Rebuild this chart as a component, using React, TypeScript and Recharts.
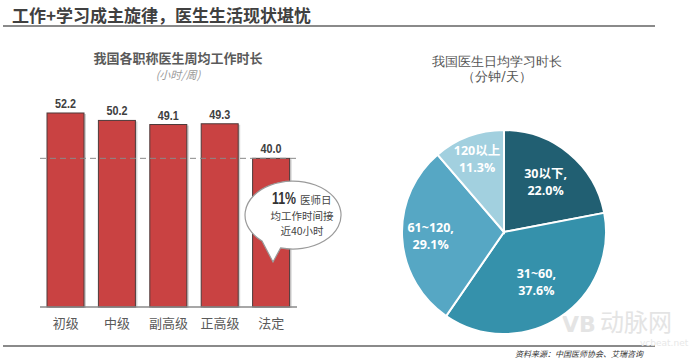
import React from "react";
import {
  BarChart,
  Bar,
  XAxis,
  YAxis,
  ReferenceLine,
  LabelList,
  PieChart,
  Pie,
  Cell,
} from "recharts";

// weekly working hours by title
const titles = ["初级", "中级", "副高级", "正高级", "法定"];
const weeklyHours = [52.2, 50.2, 49.1, 49.3, 40.0];

// daily study time (minutes/day)
const studyBuckets = ["30以下", "31~60", "61~120", "120以上"];
const studyShare = [22.0, 37.6, 29.1, 11.3];

const PIE_COLORS = ["#215f72", "#3591ab", "#56a7c4", "#a2d0df"];
const LABEL_R = [0.64, 0.58, 0.72, 0.76];

const CJK = '"Noto Sans CJK SC", "Noto Sans", sans-serif';

const barData = titles.map((t, i) => ({ name: t, value: weeklyHours[i] }));
const pieData = studyBuckets.map((b, i) => ({ name: b, value: studyShare[i] }));

const BarShape = (props: any) => {
  const { x, y, width, height } = props;
  if (height <= 0) return null;
  return (
    <g>
      <rect x={x + 2} y={y + 1} width={width} height={height} fill="#9a9a9a" opacity={0.45} />
      <rect x={x} y={y} width={width} height={height} fill="#c94242" stroke="#4e3a3a" strokeWidth={1} />
    </g>
  );
};

// narrow bold value label above each bar
const ValueLabel = (props: any) => {
  const { x, y, width, value } = props;
  return (
    <text
      x={x + width / 2}
      y={y - 5}
      textAnchor="middle"
      fill="#404040"
      fontSize={13}
      fontWeight={700}
      fontFamily='"Liberation Sans", sans-serif'
      textLength={21}
      lengthAdjust="spacingAndGlyphs"
    >
      {Number(value).toFixed(1)}
    </text>
  );
};

const RAD = Math.PI / 180;
const PieLabel = (props: any) => {
  const { cx, cy, midAngle, outerRadius, index, name, value } = props;
  const r = outerRadius * LABEL_R[index];
  const x = cx + r * Math.cos(-midAngle * RAD);
  const y = cy + r * Math.sin(-midAngle * RAD);
  const first = index < 3 ? `${name},` : name;
  const font = '"Open Sans", "Noto Sans CJK SC", sans-serif';
  return (
    <g>
      <text x={x} y={y - 4} fill="#ffffff" textAnchor="middle" fontFamily={font} fontSize={12.5} fontWeight={700}>
        {first}
      </text>
      <text x={x} y={y + 13} fill="#ffffff" textAnchor="middle" fontFamily={font} fontSize={12.5} fontWeight={700}>
        {`${value.toFixed(1)}%`}
      </text>
    </g>
  );
};

export default function App() {
  return (
    <div
      style={{
        position: "absolute",
        left: 0,
        top: 0,
        width: 700,
        height: 363,
        background: "#ffffff",
        overflow: "hidden",
        fontFamily: CJK,
      }}
    >
      {/* header */}
      <div
        style={{
          position: "absolute",
          left: 12,
          top: 2,
          fontSize: 17,
          fontWeight: 700,
          color: "#404040",
          whiteSpace: "nowrap",
        }}
      >
        工作+学习成主旋律，医生生活现状堪忧
      </div>
      <div style={{ position: "absolute", left: 3, top: 25, width: 652, height: 2, background: "#8a8a8a" }} />
      <div style={{ position: "absolute", left: 3, top: 345, width: 652, height: 2, background: "#8a8a8a" }} />

      {/* bar chart titles */}
      <div
        style={{
          position: "absolute",
          left: 78,
          width: 200,
          top: 48,
          textAlign: "center",
          fontSize: 13,
          fontWeight: 700,
          color: "#5a5a5a",
        }}
      >
        我国各职称医生周均工作时长
      </div>
      <div
        style={{
          position: "absolute",
          left: 128,
          width: 100,
          top: 66,
          textAlign: "center",
          fontSize: 11,
          fontStyle: "italic",
          color: "#9a9a9a",
        }}
      >
        (小时/周)
      </div>

      <div style={{ position: "absolute", left: 0, top: 0 }}>
        <BarChart
          width={340}
          height={345}
          data={barData}
          margin={{ top: 84, right: 43, left: 40, bottom: 8 }}
          barCategoryGap={7}
        >
          <YAxis hide domain={[0, 60]} />
          <XAxis
            dataKey="name"
            height={30}
            axisLine={{ stroke: "#8a8a8a", strokeWidth: 1.5 }}
            tickLine={false}
            tickMargin={6}
            tick={{ fill: "#5a5a5a", fontSize: 13, fontFamily: CJK }}
            interval={0}
          />
          <ReferenceLine y={40} stroke="#8a8a8a" strokeDasharray="6 4" ifOverflow="extendDomain" />
          <Bar dataKey="value" barSize={37} shape={<BarShape />} isAnimationActive={false}>
            <LabelList dataKey="value" content={<ValueLabel />} />
          </Bar>
        </BarChart>
      </div>

      {/* callout bubble */}
      <svg style={{ position: "absolute", left: 0, top: 0 }} width={700} height={363}>
        <path
          d="M 280.6 247.9 A 48 34 0 1 0 262 241 L 273 262 Z"
          fill="#ffffff"
          stroke="#9a9a9a"
          strokeWidth={1.2}
        />
        <text
          x={272}
          y={204}
          fontFamily='"Liberation Sans", sans-serif'
          fontWeight={700}
          fontSize={16}
          fill="#333"
          textLength={24}
          lengthAdjust="spacingAndGlyphs"
        >
          11%
        </text>
        <text x={300} y={204} fontFamily={CJK} fontSize={10.5} fill="#444">
          医师日
        </text>
        <text x={302} y={220} textAnchor="middle" fontFamily={CJK} fontSize={10.5} fill="#444">
          均工作时间接
        </text>
        <text x={302} y={235} textAnchor="middle" fontFamily={CJK} fontSize={10.5} fill="#444">
          近40小时
        </text>

        {/* watermark */}
        <text x={562} y={332} fontFamily="DejaVu Sans" fontWeight={700} fontSize={22} fill="#e4e4e4">
          VB
        </text>
        <text x={600} y={331} fontFamily={CJK} fontSize={24} fill="#e4e4e4">
          动脉网
        </text>
        <text x={640} y={346} fontFamily="DejaVu Sans" fontSize={9} fill="#e8e8e8">
          vcbeat.net
        </text>

        <text x={515} y={357} fontFamily={CJK} fontSize={8} fontStyle="italic" fill="#333">
          资料来源：中国医师协会、艾瑞咨询
        </text>
      </svg>

      {/* pie chart titles */}
      <div
        style={{
          position: "absolute",
          left: 417,
          width: 160,
          top: 54,
          textAlign: "center",
          fontSize: 13,
          lineHeight: "15px",
          color: "#555",
          fontFamily: '"DejaVu Serif", serif',
        }}
      >
        我国医生日均学习时长
        <br />
        （分钟/天）
      </div>

      <div style={{ position: "absolute", left: 390, top: 115 }}>
        <PieChart width={220} height={224}>
          <Pie
            data={pieData}
            dataKey="value"
            nameKey="name"
            cx={109}
            cy={112}
            outerRadius={102}
            startAngle={90}
            endAngle={-270}
            stroke="#ffffff"
            strokeWidth={2}
            label={<PieLabel />}
            labelLine={false}
            isAnimationActive={false}
          >
            {pieData.map((d, i) => (
              <Cell key={d.name} fill={PIE_COLORS[i]} />
            ))}
          </Pie>
        </PieChart>
      </div>
    </div>
  );
}
